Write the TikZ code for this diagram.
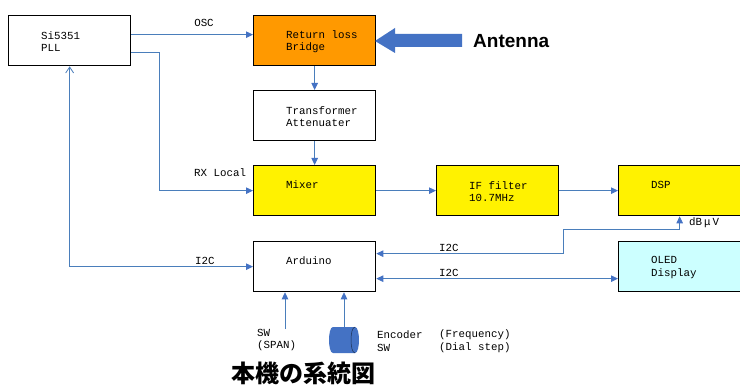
\documentclass[tikz,border=0pt]{standalone}
\usepackage{fontspec}
\setmonofont{Liberation Mono}
\newfontfamily\antfont{Liberation Sans}
\newfontfamily\cjkfont{Noto Sans CJK JP}
\usetikzlibrary{arrows.meta,calc}
\definecolor{lineblue}{RGB}{74,126,187}
\definecolor{tipblue}{RGB}{68,114,196}
\definecolor{orangefill}{RGB}{255,153,0}
\definecolor{cyanfill}{RGB}{204,255,255}
\begin{document}
\begin{tikzpicture}[x=1pt,y=-1pt,
  blk/.style={draw=black,line width=1.3pt,minimum width=122pt,minimum height=50pt,inner sep=0pt,anchor=north west},
  lbl/.style={font=\fontsize{10.8}{12.5}\selectfont\ttfamily,anchor=west,inner sep=0pt,align=left},
  conn/.style={draw=lineblue,line width=0.8pt},
  btip/.tip={Triangle[length=7pt,width=6.5pt,fill=tipblue,color=tipblue]},
  obarb/.tip={Straight Barb[length=6pt,width=8pt,color=lineblue]}
  ]
\useasboundingbox (0,0) rectangle (740,385);
\fill[white] (0,0) rectangle (740,385);

% boxes
\node[blk] (si)   at (8,15)   {};
\node[blk,fill=orangefill] (rlb) at (253,15) {};
\node[blk] (tr)   at (253,90)  {};
\node[blk,fill=yellow] (mix)  at (253,165) {};
\node[blk,fill=yellow] (iff)  at (436,165) {};
\node[blk,fill=yellow] (dsp)  at (618,165) {};
\node[blk] (ard)  at (253,241) {};
\node[blk,fill=cyanfill] (oled) at (618,241) {};

% box texts
\node[lbl] (tsi)  at ($(si.north west)+(33,26.5)$)   {Si5351\\PLL};
\node[lbl] (trlb) at ($(rlb.north west)+(33,26.5)$)  {Return loss\\Bridge};
\node[lbl] (ttr)  at ($(tr.north west)+(33,26.5)$)   {Transformer\\Attenuater};
\node[lbl] (tmix) at ($(mix.north west)+(33,20)$)    {Mixer};
\node[lbl] (tiff) at ($(iff.north west)+(33,26.5)$)  {IF filter\\10.7MHz};
\node[lbl] (tdsp) at ($(dsp.north west)+(33,20)$)    {DSP};
\node[lbl] (tard) at ($(ard.north west)+(33,20)$)    {Arduino};
\node[lbl] (told) at ($(oled.north west)+(33,26.5)$) {OLED\\Display};

% antenna arrow
\fill[tipblue] (375,41) -- (395,28) -- (395,34) -- (462,34) -- (462,47) -- (395,47) -- (395,53) -- cycle;
\node[font=\antfont\bfseries\fontsize{19}{19}\selectfont,anchor=west,inner sep=0pt] (ant) at (473,41) {Antenna};

% connectors
\draw[conn,-{btip}] ([yshift=6pt]si.east) -- ([yshift=6pt]rlb.west);
\node[lbl,anchor=center] (losc) at (204,23) {OSC};
\draw[conn,-{btip}] ([yshift=-12pt]si.east) -- ++(28,0) |- (mix.west);
\node[lbl] (lrx) at (194,173) {RX Local};
\draw[conn,-{btip}] (rlb.south) -- (tr.north);
\draw[conn,-{btip}] (tr.south) -- (mix.north);
\draw[conn,-{btip}] (mix.east) -- (iff.west);
\draw[conn,-{btip}] (iff.east) -- (dsp.west);

\draw[conn,{obarb}-{btip}] (si.south) |- (ard.west);
\node[lbl] (li2c1) at (195,261) {I2C};

\coordinate (bend) at (563,229);
\draw[conn,{btip}-{btip}] ([yshift=13pt]ard.east) -| (bend) -| (dsp.south);
\node[lbl] (li2c2) at (439,248) {I2C};
\node[lbl] (ldb) at (689,223) {dB\hspace{2pt}μ\hspace{2pt}V};

\draw[conn,{btip}-{btip}] ([yshift=-12pt]ard.east) -- ([yshift=-12pt]oled.west);
\node[lbl] (li2c3) at (439,273) {I2C};

% SW input
\coordinate (sw) at (285,329);
\draw[conn,-{btip}] (sw) -- (sw |- ard.south);
\node[lbl] (lsw) at (257,340) {SW\\(SPAN)};

% encoder
\fill[tipblue] (333,327) -- (355,327) .. controls (360.3,327) and (360.3,353) .. (355,353)
  -- (333,353) .. controls (327.7,353) and (327.7,327) .. (333,327) -- cycle;
\draw[black!60!tipblue,line width=0.5pt] (355,327) .. controls (349.7,327) and (349.7,353) .. (355,353);
\coordinate (enc) at (344,327);
\draw[conn,-{btip}] (enc) -- (enc |- ard.south);
\node[lbl] (lenc) at (377,341) {Encoder\\SW};
\node[lbl] (lenc2) at (439,341) {(Frequency)\\(Dial step)};

% title
\node[font=\cjkfont\bfseries\fontsize{24}{24}\selectfont,inner sep=0pt] (title) at (303,373) {本機の系統図};
\end{tikzpicture}
\end{document}
